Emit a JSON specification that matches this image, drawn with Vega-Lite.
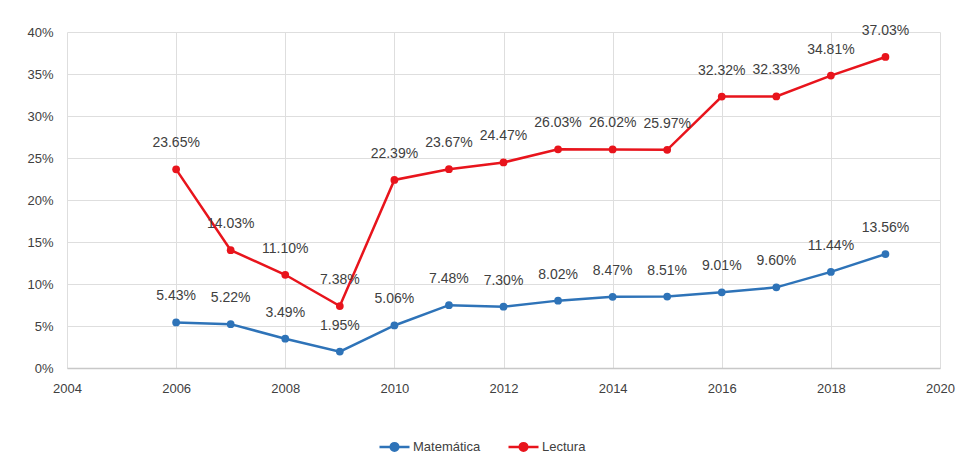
{
  "$schema": "https://vega.github.io/schema/vega-lite/v6.json",
  "width": 873,
  "height": 336,
  "autosize": "none",
  "padding": {"left": 67, "top": 32, "right": 28, "bottom": 91},
  "background": "white",
  "data": {
    "values": [
      {"year": 2006, "serie": "Matemática", "valor": 0.0543},
      {"year": 2007, "serie": "Matemática", "valor": 0.0522},
      {"year": 2008, "serie": "Matemática", "valor": 0.0349},
      {"year": 2009, "serie": "Matemática", "valor": 0.0195},
      {"year": 2010, "serie": "Matemática", "valor": 0.0506},
      {"year": 2011, "serie": "Matemática", "valor": 0.0748},
      {"year": 2012, "serie": "Matemática", "valor": 0.0730},
      {"year": 2013, "serie": "Matemática", "valor": 0.0802},
      {"year": 2014, "serie": "Matemática", "valor": 0.0847},
      {"year": 2015, "serie": "Matemática", "valor": 0.0851},
      {"year": 2016, "serie": "Matemática", "valor": 0.0901},
      {"year": 2017, "serie": "Matemática", "valor": 0.0960},
      {"year": 2018, "serie": "Matemática", "valor": 0.1144},
      {"year": 2019, "serie": "Matemática", "valor": 0.1356},
      {"year": 2006, "serie": "Lectura", "valor": 0.2365},
      {"year": 2007, "serie": "Lectura", "valor": 0.1403},
      {"year": 2008, "serie": "Lectura", "valor": 0.1110},
      {"year": 2009, "serie": "Lectura", "valor": 0.0738},
      {"year": 2010, "serie": "Lectura", "valor": 0.2239},
      {"year": 2011, "serie": "Lectura", "valor": 0.2367},
      {"year": 2012, "serie": "Lectura", "valor": 0.2447},
      {"year": 2013, "serie": "Lectura", "valor": 0.2603},
      {"year": 2014, "serie": "Lectura", "valor": 0.2602},
      {"year": 2015, "serie": "Lectura", "valor": 0.2597},
      {"year": 2016, "serie": "Lectura", "valor": 0.3232},
      {"year": 2017, "serie": "Lectura", "valor": 0.3233},
      {"year": 2018, "serie": "Lectura", "valor": 0.3481},
      {"year": 2019, "serie": "Lectura", "valor": 0.3703}
    ]
  },
  "encoding": {
    "x": {
      "field": "year", "type": "quantitative",
      "scale": {"domain": [2004, 2020], "nice": false, "zero": false},
      "axis": {
        "title": null, "values": [2004, 2006, 2008, 2010, 2012, 2014, 2016, 2018, 2020],
        "format": "d", "ticks": false, "labelPadding": 14, "labelFlush": false,
        "domainColor": "#c8c8c8", "domainWidth": 1.5,
        "gridColor": "#dedede", "labelColor": "#404040",
        "labelFont": "Liberation Sans", "labelFontSize": 13
      }
    },
    "y": {
      "field": "valor", "type": "quantitative",
      "scale": {"domain": [0, 0.4], "nice": false},
      "axis": {
        "title": null, "values": [0, 0.05, 0.1, 0.15, 0.2, 0.25, 0.3, 0.35, 0.4],
        "format": ".0%", "ticks": false, "domain": false, "labelPadding": 14,
        "gridColor": "#dedede", "labelColor": "#404040",
        "labelFont": "Liberation Sans", "labelFontSize": 13
      }
    },
    "color": {
      "field": "serie", "type": "nominal",
      "scale": {"domain": ["Matemática", "Lectura"], "range": ["#2e73b8", "#e8141c"]},
      "legend": {
        "title": null, "orient": "none", "direction": "horizontal",
        "legendX": 311, "legendY": 398,
        "labelFont": "Liberation Sans", "labelFontSize": 13,
        "labelColor": "#404040", "symbolType": "M-1,0L1,0M-0.25,0A0.25,0.25 0 1,1 0.25,0A0.25,0.25 0 1,1 -0.25,0",
        "symbolSize": 900, "symbolStrokeWidth": 2.5, "columnPadding": 22, "labelOffset": 2
      }
    }
  },
  "layer": [
    {
      "mark": {"type": "line", "strokeWidth": 2.5, "point": {"filled": true, "size": 60}}
    },
    {
      "mark": {"type": "text", "dy": -26, "font": "Liberation Sans", "fontSize": 14, "color": "#404040"},
      "encoding": {
        "text": {"field": "valor", "type": "quantitative", "format": ".2%"},
        "color": {"value": "#404040"}
      }
    }
  ],
  "config": {"view": {"stroke": null}}
}
